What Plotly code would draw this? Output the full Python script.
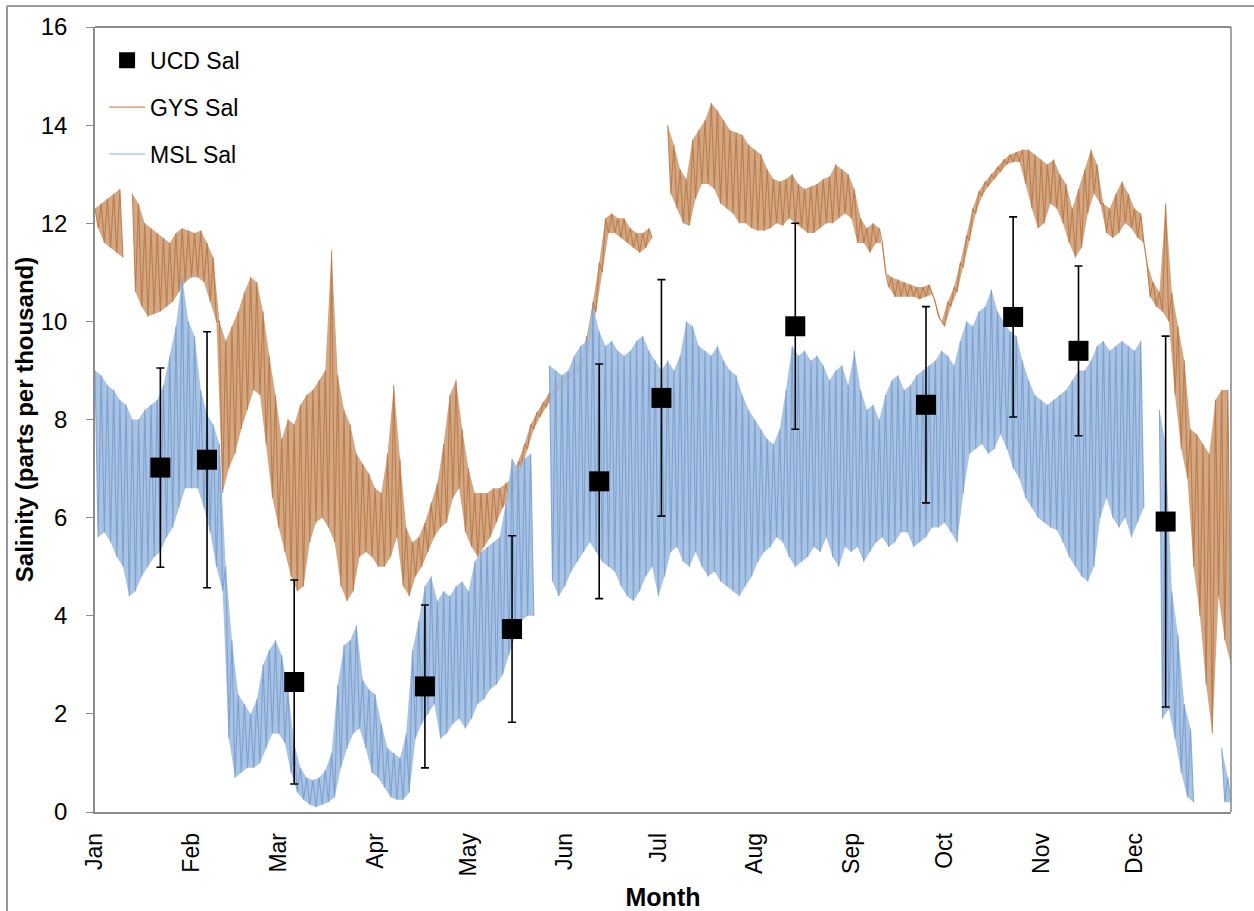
import pandas as pd
import plotly.graph_objects as go

# ---------------- data ----------------
month_starts = ["2013-01-01", "2013-02-01", "2013-03-01", "2013-04-01", "2013-05-01", "2013-06-01",
                "2013-07-01", "2013-08-01", "2013-09-01", "2013-10-01", "2013-11-01", "2013-12-01"]
month_labels = ["Jan", "Feb", "Mar", "Apr", "May", "Jun", "Jul", "Aug", "Sep", "Oct", "Nov", "Dec"]

# UCD monthly samples (day of year), mean and standard deviation
ucd_day = [21, 36, 64, 106, 134, 162, 182, 225, 267, 295, 316, 344]
ucd_sal = [7.02, 7.18, 2.65, 2.56, 3.73, 6.74, 8.44, 9.90, 8.30, 10.09, 9.40, 5.92]
ucd_sd = [2.03, 2.61, 2.08, 1.66, 1.90, 2.39, 2.41, 2.10, 2.00, 2.04, 1.73, 3.78]

# continuous records: tidal high / low salinity read every 2 days (None = no data)
env_day = list(range(0, 366, 2))

gys_hi = [12.3, 12.4, 12.5, 12.6, 12.7, None, 12.6, 12.4, 12.0, 11.9,
          11.8, 11.7, 11.6, 11.8, 11.9, 11.85, 11.8, 11.85, 11.6, 11.3,
          10.0, 9.6, 9.9, 10.2, 10.6, 10.9, 10.8, 10.2, 9.3, 8.5,
          7.6, 8.0, 7.9, 8.3, 8.5, 8.6, 8.8, 9.0, 11.45, 8.9,
          8.2, 7.9, 7.3, 7.1, 6.9, 6.6, 6.5, 7.3, 8.7, 7.2,
          5.8, 5.5, 5.6, 5.9, 6.3, 6.7, 7.5, 8.5, 8.8, 7.8,
          7.0, 6.5, 6.5, 6.5, 6.6, 6.6, 6.7, 6.8, 7.15, 7.5,
          7.9, 8.15, 8.35, 8.55, 8.7, 8.85, 8.95, 9.05, 9.2, 9.7,
          10.4, 11.2, 12.1, 12.2, 12.1, 12.1, 11.9, 11.8, 11.8, 11.9,
          None, None, 14.0, 13.6, 13.1, 12.9, 13.7, 13.9, 14.1, 14.45,
          14.3, 14.1, 13.9, 13.85, 13.8, 13.6, 13.5, 13.4, 13.1, 12.9,
          12.85, 12.9, 13.0, 12.8, 12.7, 12.75, 12.8, 12.9, 12.95, 13.2,
          13.1, 13.0, 12.7, 12.1, 11.9, 12.0, 11.9, 11.0, 10.9, 10.85,
          10.8, 10.75, 10.7, 10.7, 10.75, 10.4, 10.0, 10.4, 10.7, 11.2,
          11.75, 12.3, 12.65, 12.85, 13.0, 13.15, 13.3, 13.4, 13.45, 13.5,
          13.5, 13.4, 13.3, 13.2, 13.3, 13.0, 12.8, 12.3, 12.7, 13.1,
          13.5, 13.2, 12.4, 12.3, 12.6, 12.85, 12.6, 12.3, 12.2, 11.2,
          10.8, 10.6, 12.4, 10.6, 9.9, 9.2, 7.8, 7.7, 7.5, 7.3,
          8.4, 8.6, 8.6]
gys_lo = [11.9, 11.6, 11.5, 11.4, 11.3, None, 10.6, 10.3, 10.1, 10.15,
          10.2, 10.3, 10.4, 10.6, 10.8, 10.9, 10.9, 10.8, 10.4, 10.0,
          6.5, 7.0, 7.3, 7.8, 8.2, 8.6, 8.5, 7.5, 6.4, 5.8,
          5.3, 4.8, 4.5, 4.6, 5.5, 5.9, 6.0, 5.8, 5.5, 4.6,
          4.3, 4.5, 5.2, 5.3, 5.2, 5.0, 5.0, 5.2, 5.6, 4.6,
          4.4, 4.8, 5.0, 5.3, 5.6, 5.8, 5.9, 6.4, 6.6, 5.7,
          5.4, 5.2, 5.4, 5.6, 5.9, 6.2, 6.4, 6.6, 7.05, 7.4,
          7.8, 8.05, 8.25, 8.45, 8.6, 8.75, 8.85, 8.95, 9.1, 9.5,
          10.2, 11.0, 11.8, 11.8, 11.7, 11.6, 11.5, 11.4, 11.5, 11.7,
          None, None, 12.6, 12.3, 12.0, 11.95, 12.5, 12.8, 12.8, 12.7,
          12.4, 12.3, 12.2, 12.0, 12.0, 11.9, 11.85, 11.85, 11.9, 12.0,
          11.95, 12.1, 12.0, 11.9, 11.8, 11.8, 11.9, 12.0, 12.0, 12.1,
          12.2, 12.1, 11.6, 11.6, 11.4, 11.6, 11.6, 10.7, 10.5, 10.5,
          10.5, 10.5, 10.45, 10.5, 10.55, 10.1, 9.9, 10.3, 10.6, 11.1,
          11.65, 12.2, 12.55, 12.75, 12.9, 13.05, 13.2, 13.25, 13.25, 12.8,
          12.3, 11.9, 12.0, 12.4, 12.3, 12.0, 11.6, 11.3, 11.5, 12.2,
          12.6, 12.4, 11.8, 11.7, 11.8, 12.0, 11.9, 11.7, 11.6, 10.5,
          10.3, 10.2, 10.0, 8.5, 7.4, 6.8, 5.0, 4.0, 2.6, 1.6,
          4.4, 3.5, 3.0]

msl_hi = [9.0, 8.9, 8.7, 8.6, 8.4, 8.3, 8.0, 8.0, 8.2, 8.3,
          8.4, 8.7, 9.3, 9.9, 10.9, 10.0, 9.7, 8.6, 8.1, 7.9,
          7.5, 5.0, 3.5, 2.4, 2.2, 2.0, 2.3, 3.0, 3.3, 3.5,
          3.2, 2.5, 1.4, 0.9, 0.7, 0.65, 0.7, 0.85, 1.2, 2.6,
          3.4, 3.5, 3.8, 2.7, 2.5, 2.4, 1.8, 1.3, 1.2, 1.1,
          1.6, 3.3, 3.9, 4.6, 4.8, 4.3, 4.5, 4.4, 4.6, 4.7,
          4.5, 5.1, 5.3, 5.4, 5.5, 5.6, 6.3, 7.2, 7.0, 7.2,
          7.3, None, None, 9.1, 9.0, 8.9, 9.0, 9.3, 9.5, 9.6,
          10.3, 9.8, 9.5, 9.6, 9.4, 9.3, 9.4, 9.6, 9.7, 9.4,
          9.2, 9.0, 9.2, 9.0, 9.3, 10.0, 9.9, 9.5, 9.4, 9.3,
          9.5, 9.2, 9.0, 8.9, 8.5, 8.2, 8.0, 7.8, 7.6, 7.5,
          7.8, 8.6, 9.5, 9.3, 9.4, 9.2, 9.3, 9.1, 8.8, 9.0,
          9.1, 8.7, 9.4, 8.6, 8.2, 8.3, 8.0, 8.5, 8.8, 8.9,
          8.6, 8.7, 8.9, 9.0, 9.1, 9.2, 9.4, 9.3, 9.1, 9.6,
          10.0, 9.9, 10.2, 10.3, 10.65, 10.2, 10.0, 9.8, 9.7, 9.2,
          8.8, 8.5, 8.4, 8.3, 8.4, 8.5, 8.6, 8.8, 9.0, 9.0,
          9.2, 9.5, 9.6, 9.4, 9.5, 9.6, 9.5, 9.4, 9.6, None,
          None, 8.2, 7.5, 4.5, 3.6, 2.2, 1.7, None, None, None,
          None, 1.3, 0.7]
msl_lo = [5.6, 5.7, 5.5, 5.2, 5.0, 4.4, 4.5, 4.8, 5.0, 5.2,
          5.3, 5.6, 5.8, 6.2, 6.6, 6.6, 6.6, 6.2, 5.7, 5.0,
          4.5, 1.5, 0.7, 0.8, 0.9, 0.9, 1.0, 1.3, 1.6, 1.6,
          1.4, 0.8, 0.4, 0.25, 0.15, 0.1, 0.15, 0.2, 0.3, 0.9,
          1.3, 1.6, 1.7, 1.3, 0.8, 0.7, 0.5, 0.3, 0.25, 0.25,
          0.4, 1.5, 1.8, 2.0, 2.2, 1.5, 1.6, 1.8, 1.9, 1.7,
          1.9, 2.2, 2.3, 2.5, 2.6, 2.8, 3.2, 3.6, 3.9, 4.0,
          4.0, None, None, 4.7, 4.4, 4.6, 4.9, 5.1, 5.3, 5.5,
          5.3, 5.1, 5.0, 4.9, 4.6, 4.4, 4.3, 4.5, 4.8, 5.0,
          4.4, 4.8, 5.3, 5.4, 5.1, 5.0, 5.3, 5.0, 4.8, 4.9,
          4.7, 4.6, 4.5, 4.4, 4.6, 4.8, 5.1, 5.3, 5.4, 5.6,
          5.5, 5.2, 5.0, 5.1, 5.2, 5.4, 5.3, 5.6, 5.2, 5.0,
          5.4, 5.3, 5.4, 5.1, 5.3, 5.5, 5.6, 5.4, 5.5, 5.7,
          5.7, 5.4, 5.5, 5.6, 5.8, 5.8, 5.9, 5.7, 5.5, 6.5,
          7.3, 7.4, 7.5, 7.3, 7.4, 7.7, 7.4, 7.0, 6.8, 6.4,
          6.2, 6.0, 5.9, 5.8, 5.75, 5.5, 5.2, 5.0, 4.8, 4.7,
          5.0, 6.0, 6.4, 6.0, 5.8, 6.0, 5.6, 5.9, 6.2, None,
          None, 1.9, 2.1, 1.5, 0.8, 0.3, 0.2, None, None, None,
          None, 0.2, 0.2]

for arr in (gys_hi, gys_lo, msl_hi, msl_lo):
    assert len(arr) == len(env_day), len(arr)

BASE = pd.Timestamp("2013-01-01")


def to_date(d):
    return None if d is None else (BASE + pd.Timedelta(days=d)).strftime("%Y-%m-%d %H:%M")


def zigzag(days, hi, lo):
    xs, ys = [], []
    for d, h, l in zip(days, hi, lo):
        if h is None:
            xs.append(None)
            ys.append(None)
            continue
        xs += [to_date(d), to_date(d + 1)]
        ys += [h, l]
    return xs, ys


def band(days, hi, lo):
    xs, ys = [], []
    seg = []
    for d, h, l in list(zip(days, hi, lo)) + [(None, None, None)]:
        if h is None:
            if seg:
                xs += [to_date(s[0]) for s in seg] + [to_date(s[0] + 1) for s in reversed(seg)] + [None]
                ys += [s[1] for s in seg] + [s[2] for s in reversed(seg)] + [None]
            seg = []
        else:
            seg.append((d, h, l))
    return xs, ys


GYS_FILL = "rgba(206,160,122,0.92)"
GYS_LINE = "rgba(184,114,60,0.8)"
MSL_FILL = "rgba(162,190,225,0.92)"
MSL_LINE = "rgba(114,152,206,0.8)"
FONT = "Liberation Sans, Arial, sans-serif"

fig = go.Figure()

# GYS band + tidal zigzag
bx, by = band(env_day, gys_hi, gys_lo)
fig.add_trace(go.Scatter(x=bx, y=by, mode="lines", fill="toself", fillcolor=GYS_FILL,
                         line=dict(width=0), hoverinfo="skip", showlegend=False))
zx, zy = zigzag(env_day, gys_hi, gys_lo)
fig.add_trace(go.Scatter(x=zx, y=zy, mode="lines", name="GYS Sal", legendrank=2, legendgroup="g",
                         line=dict(color=GYS_LINE, width=1.1), connectgaps=False))

# MSL band + tidal zigzag
bx, by = band(env_day, msl_hi, msl_lo)
fig.add_trace(go.Scatter(x=bx, y=by, mode="lines", fill="toself", fillcolor=MSL_FILL,
                         line=dict(width=0), hoverinfo="skip", showlegend=False))
zx, zy = zigzag(env_day, msl_hi, msl_lo)
fig.add_trace(go.Scatter(x=zx, y=zy, mode="lines", name="MSL Sal", legendrank=3, legendgroup="m",
                         line=dict(color=MSL_LINE, width=1.1), connectgaps=False))

# UCD samples with error bars
fig.add_trace(go.Scatter(x=[to_date(d) for d in ucd_day], y=ucd_sal, mode="markers", name="UCD Sal",
                         legendrank=1, legendgroup="u",
                         marker=dict(symbol="square", size=20, color="black"),
                         error_y=dict(type="data", array=ucd_sd, color="black", thickness=1.6, width=4)))

W, H = 1254, 911
L, R, T, B = 95, 23, 27, 99
pw, ph = W - L - R, H - T - B


def px(x):
    return (x - L) / pw


def py(y):
    return (H - B - y) / ph


shapes = [
    # outer chart frame (left and top edges visible)
    dict(type="line", xref="paper", yref="paper", x0=px(7), x1=px(1260), y0=py(6), y1=py(6),
         line=dict(color="#9a9a9a", width=2)),
    dict(type="line", xref="paper", yref="paper", x0=px(7), x1=px(7), y0=py(6), y1=py(915),
         line=dict(color="#9a9a9a", width=2)),
    # plot area frame
    dict(type="line", xref="paper", yref="paper", x0=0, x1=1, y0=1, y1=1,
         line=dict(color="#1a1a1a", width=1.2)),
    dict(type="line", xref="paper", yref="paper", x0=1, x1=1, y0=0, y1=1,
         line=dict(color="#8c8c8c", width=1.6)),
]

fig.update_layout(
    width=W, height=H,
    margin=dict(l=L, r=R, t=T, b=B, pad=0, autoexpand=False),
    paper_bgcolor="white", plot_bgcolor="white",
    font=dict(family=FONT, size=23, color="black"),
    showlegend=True,
    legend=dict(x=0.008, y=0.985, xanchor="left", yanchor="top", bgcolor="rgba(0,0,0,0)",
                font=dict(size=23, family=FONT), traceorder="grouped", tracegroupgap=14,
                itemwidth=36),
    shapes=shapes,
    xaxis=dict(type="date", range=[to_date(0), to_date(365)], automargin=False,
               tickmode="array", tickvals=month_starts, ticktext=month_labels,
               tickangle=-90, ticks="", showgrid=False, zeroline=False,
               showline=True, linecolor="#8c8c8c", linewidth=1.6,
               tickfont=dict(size=23, family=FONT, color="black"), ticklabelstandoff=10,
               title=dict(text="Month", font=dict(size=25, family=FONT, weight="bold"), standoff=14)),
    yaxis=dict(range=[0, 16], tickmode="linear", tick0=0, dtick=2, automargin=False,
               ticks="outside", ticklen=7, tickwidth=1.2, tickcolor="#8c8c8c",
               showgrid=False, zeroline=False, showline=True, linecolor="#8c8c8c", linewidth=1.6,
               tickfont=dict(size=24, family=FONT, color="black"), ticklabelstandoff=14,
               title=dict(text="Salinity (parts per thousand)",
                          font=dict(size=24, family=FONT, weight="bold"), standoff=0)),
)

fig.write_html("out.html")
